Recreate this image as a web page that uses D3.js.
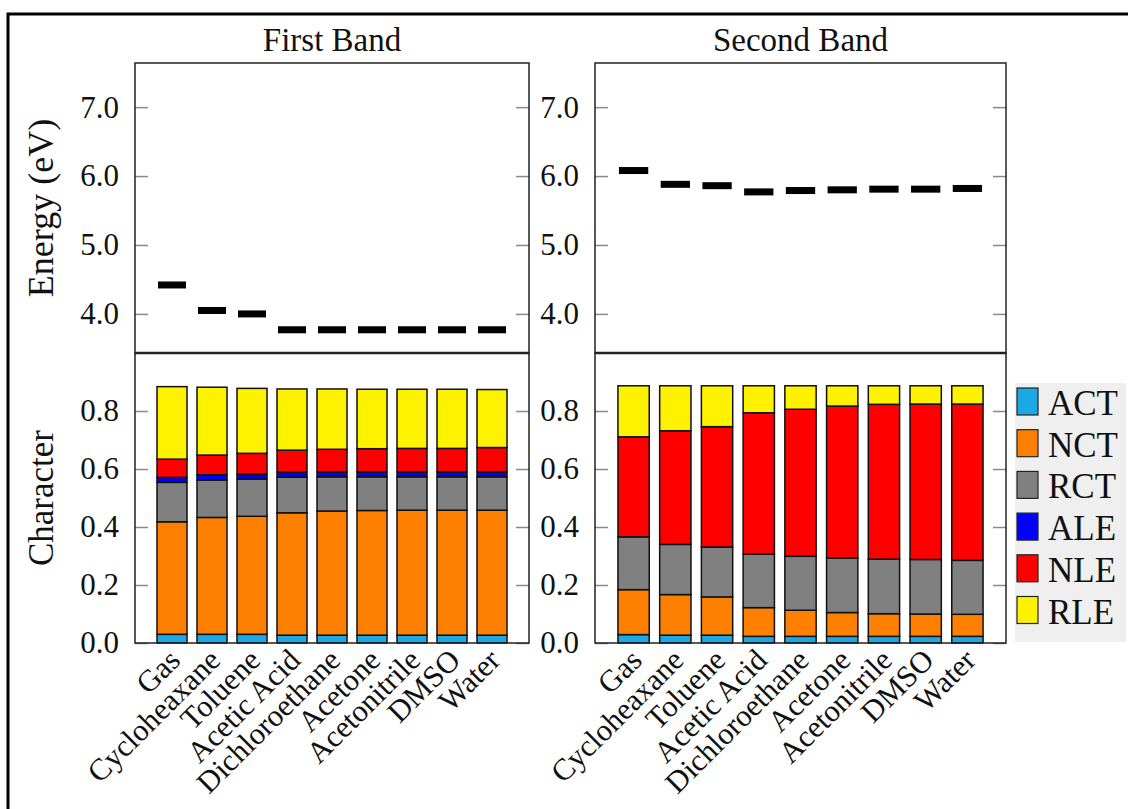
<!DOCTYPE html>
<html><head><meta charset="utf-8">
<script src="https://cdn.jsdelivr.net/npm/d3@7"></script>
<style>body{margin:0;background:#fff}svg{display:block}</style>
</head><body>
<svg id="c" width="1128" height="809"></svg>
<script>
const categories = ["Gas","Cycloheaxane","Toluene","Acetic Acid","Dichloroethane","Acetone","Acetonitrile","DMSO","Water"];
const bands = ["First Band","Second Band"];
const seriesNames = ["ACT","NCT","RCT","ALE","NLE","RLE"];
const seriesColors = ["#1ba8e3","#ff8000","#808080","#0000ff","#ff0000","#fff200"];
const energyTicks = [4.0,5.0,6.0,7.0];
const charTicks = [0.0,0.2,0.4,0.6,0.8];

const energy1 = [4.42,4.05,4.00,3.77,3.77,3.77,3.77,3.77,3.77];
const energy2 = [6.08,5.88,5.86,5.77,5.79,5.80,5.81,5.81,5.82];

const ACT1 = [.030,.030,.030,.027,.027,.027,.027,.027,.027];
const NCT1 = [.388,.403,.407,.422,.428,.430,.431,.431,.431];
const RCT1 = [.136,.129,.128,.123,.118,.116,.115,.115,.115];
const ALE1 = [.017,.018,.017,.017,.017,.017,.017,.017,.017];
const NLE1 = [.063,.068,.072,.076,.078,.080,.081,.081,.084];
const RLE1 = [.250,.234,.224,.211,.208,.205,.204,.204,.200];

const ACT2 = [.029,.027,.027,.023,.023,.023,.023,.023,.023];
const NCT2 = [.155,.140,.132,.099,.090,.082,.078,.077,.076];
const RCT2 = [.182,.173,.172,.184,.186,.188,.188,.188,.186];
const ALE2 = [0,0,0,0,0,0,0,0,0];
const NLE2 = [.345,.392,.415,.488,.507,.524,.534,.536,.539];
const RLE2 = [.176,.155,.141,.093,.081,.070,.064,.063,.063];

const panels = [
  {title: bands[0], energy: energy1, comp: [ACT1,NCT1,RCT1,ALE1,NLE1,RLE1], x0: 135, x1: 529},
  {title: bands[1], energy: energy2, comp: [ACT2,NCT2,RCT2,ALE2,NLE2,RLE2], x0: 595, x1: 1006}
];

const FONT = "'Liberation Serif', 'Times New Roman', serif";
const svg = d3.select("#c");

// outer frame
svg.append("rect").attr("x",8).attr("y",14).attr("width",1140).attr("height",820)
  .attr("fill","none").attr("stroke","#000").attr("stroke-width",3);

const topY0 = 63, topY1 = 353, botY0 = 353, botY1 = 643;
const yE = d3.scaleLinear().domain([3.433, 7.64]).range([topY1, topY0]);
const yC = d3.scaleLinear().domain([0, 1.0]).range([botY1, botY0]);

panels.forEach(p => {
  const x = d3.scaleBand().domain(categories).range([p.x0, p.x1]).paddingInner(0.25).paddingOuter(0.55);
  const g = svg.append("g");

  g.append("text").attr("x",(p.x0+p.x1)/2).attr("y",51).attr("text-anchor","middle")
    .attr("font-family",FONT).attr("font-size",33).attr("fill","#111").text(p.title);

  const axL = d3.axisLeft(yE).tickValues(energyTicks).tickFormat(d3.format(".1f")).tickSizeInner(-13).tickSizeOuter(0).tickPadding(16);
  const gL = g.append("g").attr("transform",`translate(${p.x0},0)`).call(axL);
  const axR = d3.axisRight(yE).tickValues(energyTicks).tickFormat("").tickSizeInner(-13).tickSizeOuter(0);
  const gR = g.append("g").attr("transform",`translate(${p.x1},0)`).call(axR);

  const axL2 = d3.axisLeft(yC).tickValues(charTicks).tickFormat(d3.format(".1f")).tickSizeInner(-13).tickSizeOuter(0).tickPadding(16);
  const gL2 = g.append("g").attr("transform",`translate(${p.x0},0)`).call(axL2);
  const axR2 = d3.axisRight(yC).tickValues(charTicks).tickFormat("").tickSizeInner(-13).tickSizeOuter(0);
  const gR2 = g.append("g").attr("transform",`translate(${p.x1},0)`).call(axR2);
  [gL,gR,gL2,gR2].forEach(a => {
    a.select(".domain").remove();
    a.selectAll(".tick line").attr("stroke","#8a8a8a").attr("stroke-width",1.5);
    a.selectAll(".tick text").attr("font-family",FONT).attr("font-size",31).attr("fill","#111");
  });

  g.append("g").selectAll("rect").data(p.energy).join("rect")
    .attr("x",(d,i)=>x(categories[i])+1).attr("width",x.bandwidth()-2)
    .attr("y",d=>yE(d)-3.5).attr("height",7).attr("fill","#000");

  const rows = categories.map((c,i)=>{ const o={cat:c}; seriesNames.forEach((s,k)=>o[s]=p.comp[k][i]); return o; });
  const stack = d3.stack().keys(seriesNames)(rows);
  const gb = g.append("g");
  stack.forEach((layer,k)=>{
    gb.append("g").selectAll("rect").data(layer.filter(d=>d[1]-d[0]>0)).join("rect")
      .attr("x",d=>x(d.data.cat)).attr("width",x.bandwidth())
      .attr("y",d=>yC(d[1])).attr("height",d=>yC(d[0])-yC(d[1]))
      .attr("fill",seriesColors[k]).attr("stroke","#111").attr("stroke-width",1.5);
  });

  g.append("rect").attr("x",p.x0).attr("y",topY0).attr("width",p.x1-p.x0).attr("height",topY1-topY0)
    .attr("fill","none").attr("stroke","#222").attr("stroke-width",1.5);
  g.append("rect").attr("x",p.x0).attr("y",botY0).attr("width",p.x1-p.x0).attr("height",botY1-botY0)
    .attr("fill","none").attr("stroke","#222").attr("stroke-width",1.5);
  g.append("line").attr("x1",p.x0).attr("x2",p.x1).attr("y1",topY1).attr("y2",topY1)
    .attr("stroke","#222").attr("stroke-width",2.5);

  g.append("g").selectAll("text").data(categories).join("text")
    .attr("transform",d=>`translate(${x(d)+x.bandwidth()/2+10},${662}) rotate(-45)`)
    .attr("text-anchor","end").attr("font-family",FONT).attr("font-size",30.5).attr("fill","#111").text(d=>d);
});

svg.append("text").attr("transform",`translate(53,${(topY0+topY1)/2}) rotate(-90)`).attr("text-anchor","middle")
  .attr("font-family",FONT).attr("font-size",36).attr("fill","#111").text("Energy (eV)");
svg.append("text").attr("transform",`translate(53,${(botY0+botY1)/2}) rotate(-90)`).attr("text-anchor","middle")
  .attr("font-family",FONT).attr("font-size",35).attr("fill","#111").text("Character");

const lg = svg.append("g");
lg.append("rect").attr("x",1015).attr("y",383).attr("width",111).attr("height",259).attr("fill","#efefef");
const items = lg.selectAll("g").data(seriesNames).join("g")
  .attr("transform",(d,i)=>`translate(1017,${388+i*41.7})`);
items.append("rect").attr("width",21).attr("height",27).attr("fill",(d,i)=>seriesColors[i])
  .attr("stroke","#222").attr("stroke-width",1.2);
items.append("text").attr("x",31).attr("y",27).attr("font-family",FONT).attr("font-size",35).attr("fill","#111").text(d=>d);
</script>
</body></html>
